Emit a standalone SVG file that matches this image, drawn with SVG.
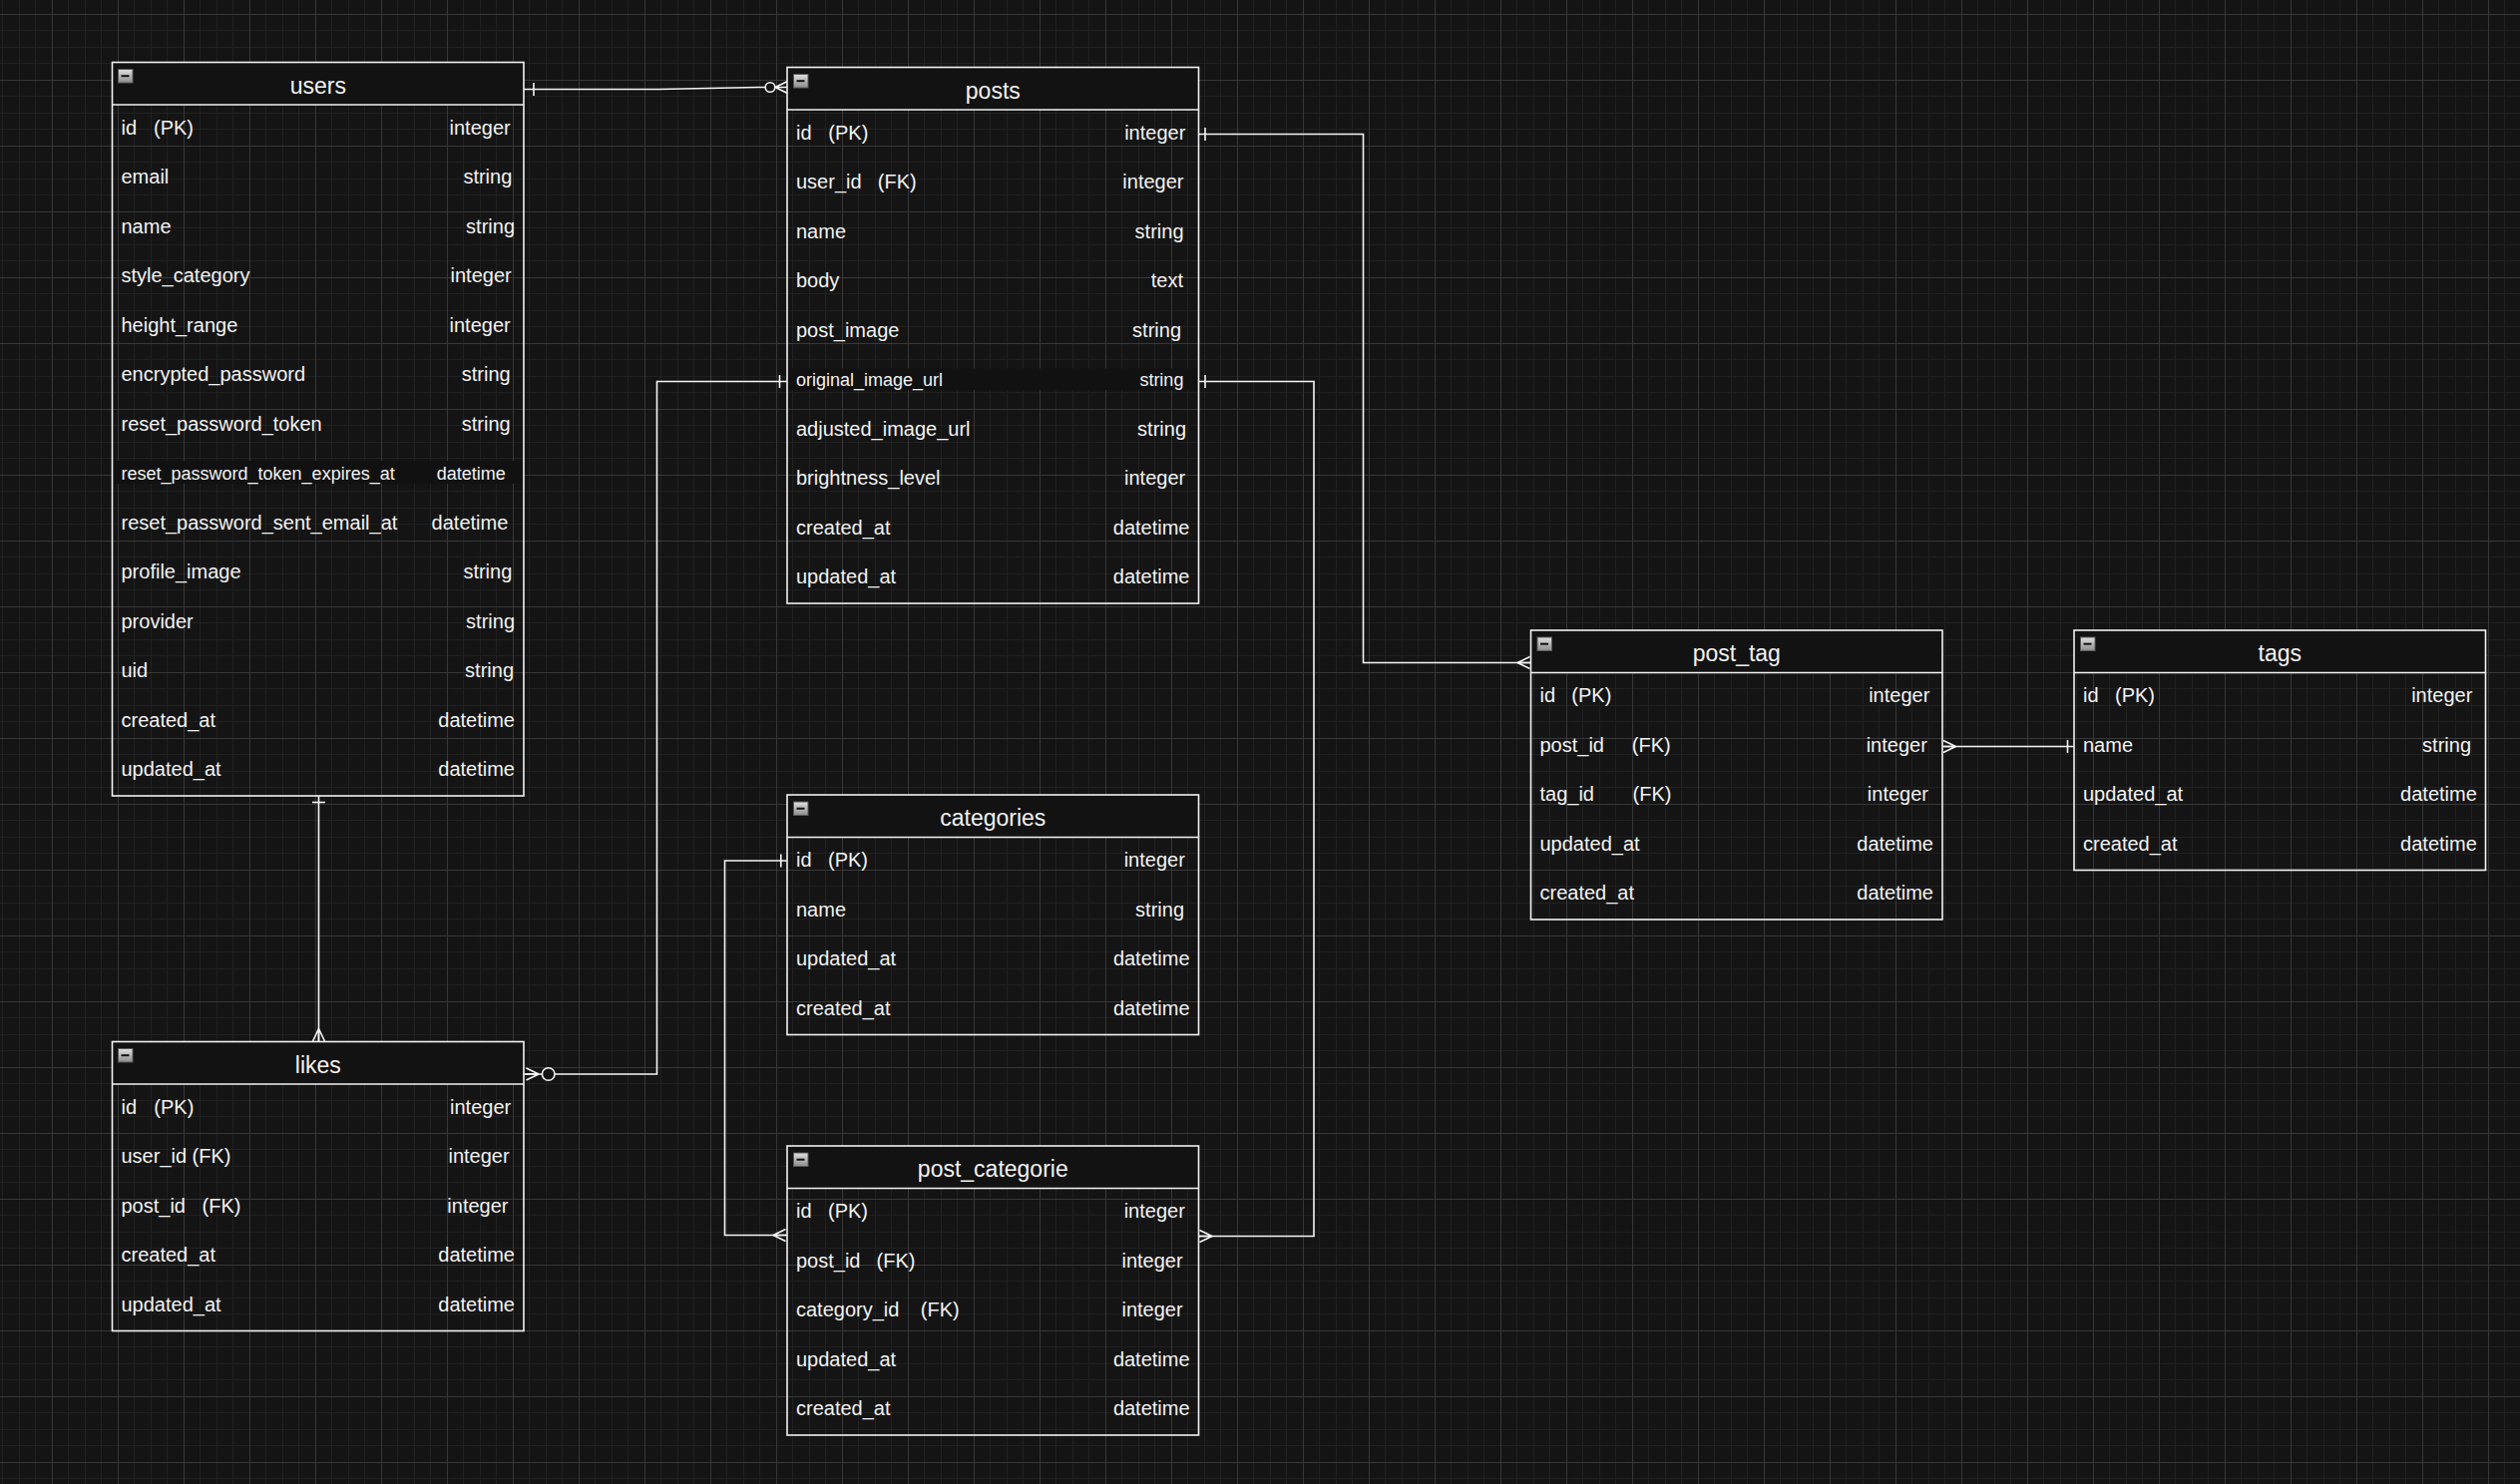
<svg xmlns="http://www.w3.org/2000/svg" xmlns:xlink="http://www.w3.org/1999/xlink" width="2526" height="1488" viewBox="0 0 2526 1488">
<style>
text{font-family:"Liberation Sans",Arial,Helvetica,sans-serif;fill:#f2f2f2}
.n{font-size:20px}
.t{font-size:20px;text-anchor:end}
.s{font-size:18px}
.h{font-size:23px;text-anchor:middle}
.box{fill:none;stroke:#f2f2f2;stroke-width:1.6}
.hd{fill:#121212;stroke:none}
.band{fill:#111111}
.sep{stroke:#f2f2f2;stroke-width:1.6}
.ln{fill:none;stroke:#f5f5f5;stroke-width:1.6}
.ring{fill:#141414;stroke:#f5f5f5;stroke-width:1.6}
</style>
<defs>
<pattern id="grid" x="52" y="14" width="66" height="66" patternUnits="userSpaceOnUse">
<path d="M16.5 0V66M33.5 0V66M49.5 0V66M0 16.5H66M0 33.5H66M0 49.5H66" stroke="#202020" stroke-width="1" fill="none"/>
<path d="M0.5 0V66M0 0.5H66" stroke="#373737" stroke-width="1" fill="none"/>
</pattern>
<linearGradient id="ig" x1="0" y1="0" x2="0" y2="1">
<stop offset="0" stop-color="#e0e0e0"/>
<stop offset="1" stop-color="#8c8c8c"/>
</linearGradient>
<g id="icon">
<rect x="0.5" y="0.5" width="14.5" height="13.5" fill="url(#ig)" stroke="#5a5a5a" stroke-width="1"/>
<path d="M3.5 7.2H11.5" stroke="#111" stroke-width="2"/>
</g>
<path id="crow" d="M0 0L12.5 -6M0 0L12.5 6M0 0H13" fill="none" stroke="#f5f5f5" stroke-width="1.6"/>
<path id="tick" d="M0 -6.5V6.5" fill="none" stroke="#f5f5f5" stroke-width="1.6"/>
</defs>

<rect x="0" y="0" width="2526" height="1488" fill="#141414"/>
<rect x="0" y="0" width="2526" height="1488" fill="url(#grid)"/>

<g id="connectors">
<!-- users -> posts -->
<path class="ln" d="M525 89.5H660L760 87.5H767"/>
<use xlink:href="#tick" transform="translate(535,89.5)"/>
<circle class="ring" cx="772" cy="87.5" r="4.8"/>
<use xlink:href="#crow" transform="translate(777,87.5)"/>
<!-- posts -> post_tag -->
<path class="ln" d="M1201.5 134.5H1366.5V664.5H1534.5"/>
<use xlink:href="#tick" transform="translate(1208,134.5)"/>
<use xlink:href="#crow" transform="translate(1521,664.5)"/>
<!-- post_tag -> tags -->
<path class="ln" d="M1947 748.5H2079"/>
<use xlink:href="#crow" transform="translate(1960.5,748.5) rotate(180)"/>
<use xlink:href="#tick" transform="translate(2072.5,748.5)"/>
<!-- users -> likes -->
<path class="ln" d="M319.5 798V1044.5"/>
<use xlink:href="#tick" transform="translate(319.5,804.5) rotate(90)"/>
<use xlink:href="#crow" transform="translate(319.5,1031.5) rotate(90)"/>
<!-- likes -> posts -->
<path class="ln" d="M525 1077H543.5M556 1077H658.5V382.5H789"/>
<use xlink:href="#crow" transform="translate(540,1077) rotate(180)"/>
<circle class="ring" cx="549.7" cy="1077" r="6.3"/>
<use xlink:href="#tick" transform="translate(781.5,382.5)"/>
<!-- categories -> post_categorie -->
<path class="ln" d="M789 863H726.5V1238.5H789"/>
<use xlink:href="#tick" transform="translate(782.8,863)"/>
<use xlink:href="#crow" transform="translate(775,1238.5)"/>
<!-- posts -> post_categorie -->
<path class="ln" d="M1201.5 382.5H1317V1239.5H1201.5"/>
<use xlink:href="#tick" transform="translate(1208,382.5)"/>
<use xlink:href="#crow" transform="translate(1215,1239.5) rotate(180)"/>
</g>

<g id="users">
<rect class="hd" x="112.5" y="62.5" width="412.5" height="42.5"/>
<rect class="band" x="113.5" y="462" width="410.5" height="23"/>
<rect class="box" x="112.5" y="62.5" width="412.5" height="735.5"/>
<path class="sep" d="M112.5 105H525"/>
<use xlink:href="#icon" x="118" y="69"/>
<text class="h" x="318.8" y="93.5">users</text>
<text class="n" x="121.5" y="134.5">id<tspan x="154">(PK)</tspan></text><text class="t" x="511.7" y="134.5">integer</text>
<text class="n" x="121.5" y="184">email</text><text class="t" x="513.3" y="184">string</text>
<text class="n" x="121.5" y="233.5">name</text><text class="t" x="516" y="233.5">string</text>
<text class="n" x="121.5" y="283">style_category</text><text class="t" x="512.7" y="283">integer</text>
<text class="n" x="121.5" y="332.5">height_range</text><text class="t" x="511.7" y="332.5">integer</text>
<text class="n" x="121.5" y="382">encrypted_password</text><text class="t" x="511.7" y="382">string</text>
<text class="n" x="121.5" y="431.5">reset_password_token</text><text class="t" x="511.7" y="431.5">string</text>
<text class="n s" x="121.5" y="480.5">reset_password_token_expires_at</text><text class="t s" x="506.7" y="480.5">datetime</text>
<text class="n" x="121.5" y="530.5">reset_password_sent_email_at</text><text class="t" x="509.3" y="530.5">datetime</text>
<text class="n" x="121.5" y="580">profile_image</text><text class="t" x="513.3" y="580">string</text>
<text class="n" x="121.5" y="629.5">provider</text><text class="t" x="516" y="629.5">string</text>
<text class="n" x="121.5" y="679">uid</text><text class="t" x="515" y="679">string</text>
<text class="n" x="121.5" y="728.5">created_at</text><text class="t" x="516" y="728.5">datetime</text>
<text class="n" x="121.5" y="778">updated_at</text><text class="t" x="516" y="778">datetime</text>
</g>

<g id="posts">
<rect class="hd" x="789" y="67.5" width="412.5" height="42.5"/>
<rect class="band" x="790" y="369.5" width="410.5" height="21.5"/>
<rect class="box" x="789" y="67.5" width="412.5" height="537.5"/>
<path class="sep" d="M789 110H1201.5"/>
<use xlink:href="#icon" x="795" y="74"/>
<text class="h" x="995.3" y="98.5">posts</text>
<text class="n" x="798" y="139.5">id<tspan x="830.3">(PK)</tspan></text><text class="t" x="1188.3" y="139.5">integer</text>
<text class="n" x="798" y="189">user_id<tspan x="879.8">(FK)</tspan></text><text class="t" x="1186.5" y="189">integer</text>
<text class="n" x="798" y="238.5">name</text><text class="t" x="1186.5" y="238.5">string</text>
<text class="n" x="798" y="288">body</text><text class="t" x="1186" y="288">text</text>
<text class="n" x="798" y="337.5">post_image</text><text class="t" x="1184" y="337.5">string</text>
<text class="n s" x="798" y="386.5">original_image_url</text><text class="t s" x="1186.4" y="386.5">string</text>
<text class="n" x="798" y="436.5">adjusted_image_url</text><text class="t" x="1189" y="436.5">string</text>
<text class="n" x="798" y="486">brightness_level</text><text class="t" x="1188.2" y="486">integer</text>
<text class="n" x="798" y="535.5">created_at</text><text class="t" x="1192.5" y="535.5">datetime</text>
<text class="n" x="798" y="585">updated_at</text><text class="t" x="1192.5" y="585">datetime</text>
</g>

<g id="likes">
<rect class="hd" x="112.5" y="1044.5" width="412.5" height="42.5"/>
<rect class="box" x="112.5" y="1044.5" width="412.5" height="290"/>
<path class="sep" d="M112.5 1087H525"/>
<use xlink:href="#icon" x="118" y="1051"/>
<text class="h" x="318.8" y="1075.5">likes</text>
<text class="n" x="121.5" y="1116.5">id<tspan x="154.3">(PK)</tspan></text><text class="t" x="512.2" y="1116.5">integer</text>
<text class="n" x="121.5" y="1166">user_id<tspan x="192.6">(FK)</tspan></text><text class="t" x="510.6" y="1166">integer</text>
<text class="n" x="121.5" y="1215.5">post_id<tspan x="202.6">(FK)</tspan></text><text class="t" x="509.5" y="1215.5">integer</text>
<text class="n" x="121.5" y="1265">created_at</text><text class="t" x="516" y="1265">datetime</text>
<text class="n" x="121.5" y="1314.5">updated_at</text><text class="t" x="516" y="1314.5">datetime</text>
</g>

<g id="categories">
<rect class="hd" x="789" y="797" width="412.5" height="42.5"/>
<rect class="box" x="789" y="797" width="412.5" height="240.5"/>
<path class="sep" d="M789 839.5H1201.5"/>
<use xlink:href="#icon" x="795" y="803.5"/>
<text class="h" x="995.3" y="828">categories</text>
<text class="n" x="798" y="869">id<tspan x="830">(PK)</tspan></text><text class="t" x="1187.8" y="869">integer</text>
<text class="n" x="798" y="918.5">name</text><text class="t" x="1187" y="918.5">string</text>
<text class="n" x="798" y="968">updated_at</text><text class="t" x="1192.6" y="968">datetime</text>
<text class="n" x="798" y="1017.5">created_at</text><text class="t" x="1192.6" y="1017.5">datetime</text>
</g>

<g id="post_categorie">
<rect class="hd" x="789" y="1149" width="412.5" height="42.5"/>
<rect class="box" x="789" y="1149" width="412.5" height="290"/>
<path class="sep" d="M789 1191.5H1201.5"/>
<use xlink:href="#icon" x="795" y="1155.5"/>
<text class="h" x="995.3" y="1180">post_categorie</text>
<text class="n" x="798" y="1221">id<tspan x="830">(PK)</tspan></text><text class="t" x="1187.8" y="1221">integer</text>
<text class="n" x="798" y="1270.5">post_id<tspan x="878.6">(FK)</tspan></text><text class="t" x="1185.6" y="1270.5">integer</text>
<text class="n" x="798" y="1320">category_id<tspan x="922.8">(FK)</tspan></text><text class="t" x="1185.6" y="1320">integer</text>
<text class="n" x="798" y="1369.5">updated_at</text><text class="t" x="1192.6" y="1369.5">datetime</text>
<text class="n" x="798" y="1419">created_at</text><text class="t" x="1192.6" y="1419">datetime</text>
</g>

<g id="post_tag">
<rect class="hd" x="1534.5" y="632" width="412.5" height="42.5"/>
<rect class="box" x="1534.5" y="632" width="412.5" height="290"/>
<path class="sep" d="M1534.5 674.5H1947"/>
<use xlink:href="#icon" x="1540.5" y="638.5"/>
<text class="h" x="1740.8" y="663">post_tag</text>
<text class="n" x="1543.5" y="704">id<tspan x="1575.3">(PK)</tspan></text><text class="t" x="1934.3" y="704">integer</text>
<text class="n" x="1543.5" y="753.5">post_id<tspan x="1635.8">(FK)</tspan></text><text class="t" x="1931.8" y="753.5">integer</text>
<text class="n" x="1543.5" y="803">tag_id<tspan x="1636.5">(FK)</tspan></text><text class="t" x="1933" y="803">integer</text>
<text class="n" x="1543.5" y="852.5">updated_at</text><text class="t" x="1938" y="852.5">datetime</text>
<text class="n" x="1543.5" y="902">created_at</text><text class="t" x="1938" y="902">datetime</text>
</g>

<g id="tags">
<rect class="hd" x="2079" y="632" width="412.5" height="42.5"/>
<rect class="box" x="2079" y="632" width="412.5" height="240.5"/>
<path class="sep" d="M2079 674.5H2491.5"/>
<use xlink:href="#icon" x="2085" y="638.5"/>
<text class="h" x="2285.3" y="663">tags</text>
<text class="n" x="2088" y="704">id<tspan x="2120">(PK)</tspan></text><text class="t" x="2478.3" y="704">integer</text>
<text class="n" x="2088" y="753.5">name</text><text class="t" x="2477" y="753.5">string</text>
<text class="n" x="2088" y="803">updated_at</text><text class="t" x="2482.8" y="803">datetime</text>
<text class="n" x="2088" y="852.5">created_at</text><text class="t" x="2482.8" y="852.5">datetime</text>
</g>
</svg>
